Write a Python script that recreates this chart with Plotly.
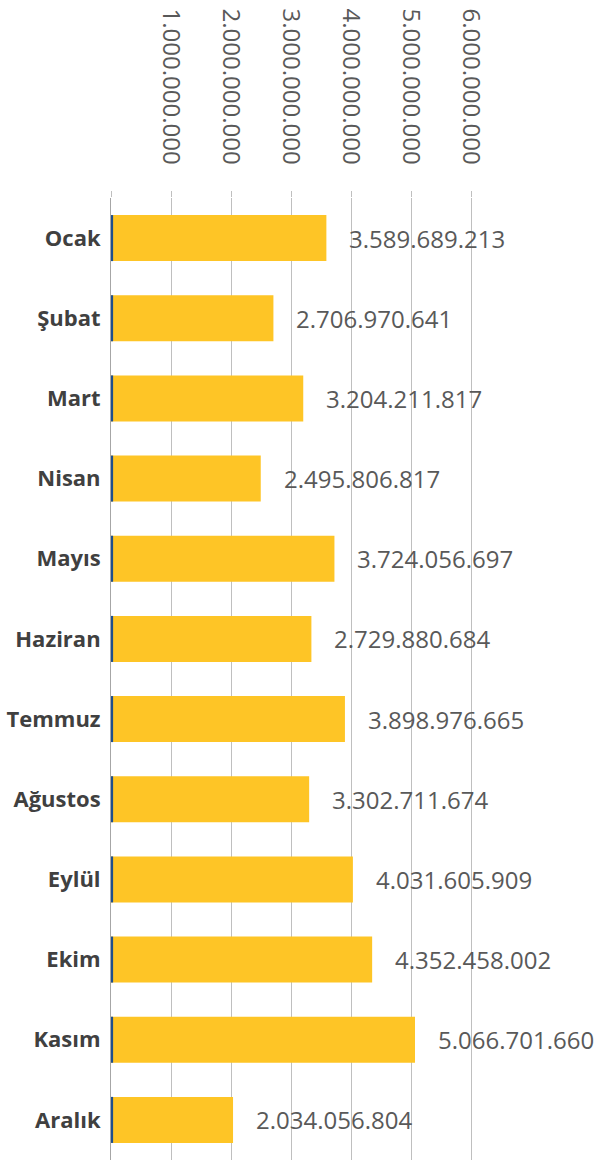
import plotly.graph_objects as go

months = ["Ocak", "Şubat", "Mart", "Nisan", "Mayıs", "Haziran", "Temmuz",
          "Ağustos", "Eylül", "Ekim", "Kasım", "Aralık"]
values = [3589689213, 2706970641, 3204211817, 2495806817, 3724056697, 3340000000,
          3898976665, 3302711674, 4031605909, 4352458002, 5066701660, 2034056804]
label_texts = ["3.589.689.213", "2.706.970.641", "3.204.211.817", "2.495.806.817",
               "3.724.056.697", "2.729.880.684", "3.898.976.665", "3.302.711.674",
               "4.031.605.909", "4.352.458.002", "5.066.701.660", "2.034.056.804"]
small_values = [35000000] * 12
tick_vals = [0, 1e9, 2e9, 3e9, 4e9, 5e9, 6e9]
tick_text = ["", "1.000.000.000", "2.000.000.000", "3.000.000.000",
             "4.000.000.000", "5.000.000.000", "6.000.000.000"]

fig = go.Figure()
fig.add_trace(go.Bar(y=months, x=values, orientation="h",
                     marker=dict(color="#FEC526", line=dict(width=0)),
                     hoverinfo="skip"))
fig.add_trace(go.Bar(y=months, x=small_values, orientation="h",
                     marker=dict(color="#1F4E8C", line=dict(width=0)),
                     hoverinfo="skip"))

for m, v, t in zip(months, values, label_texts):
    fig.add_annotation(x=v, y=m, text=t, showarrow=False, xanchor="left",
                       xshift=21, font=dict(family="Open Sans", size=24, color="#595959"))

fig.update_layout(
    width=603, height=1160,
    margin=dict(l=111, r=0, t=198, b=0),
    barmode="overlay", bargap=0.426,
    plot_bgcolor="white", paper_bgcolor="white",
    showlegend=False,
    xaxis=dict(side="top", range=[0, 8.2e9], tickvals=tick_vals, ticktext=tick_text,
               tickangle=90, showgrid=True, gridcolor="#BFBFBF", gridwidth=1,
               zeroline=False, ticks="outside", ticklen=6, tickcolor="#BFBFBF",
               ticklabelstandoff=18, automargin=False,
               tickfont=dict(family="Open Sans", size=24, color="#595959")),
    yaxis=dict(autorange="reversed", showline=True, linecolor="#A6A6A6", linewidth=1,
               ticks="", showgrid=False, ticklabelstandoff=5, automargin=False,
               tickfont=dict(family="Open Sans", size=22, color="#404040", weight="bold")),
)

fig.write_html("out.html", config={"displayModeBar": False},
               post_script="document.body.style.margin='0';document.body.style.overflow='hidden';")
